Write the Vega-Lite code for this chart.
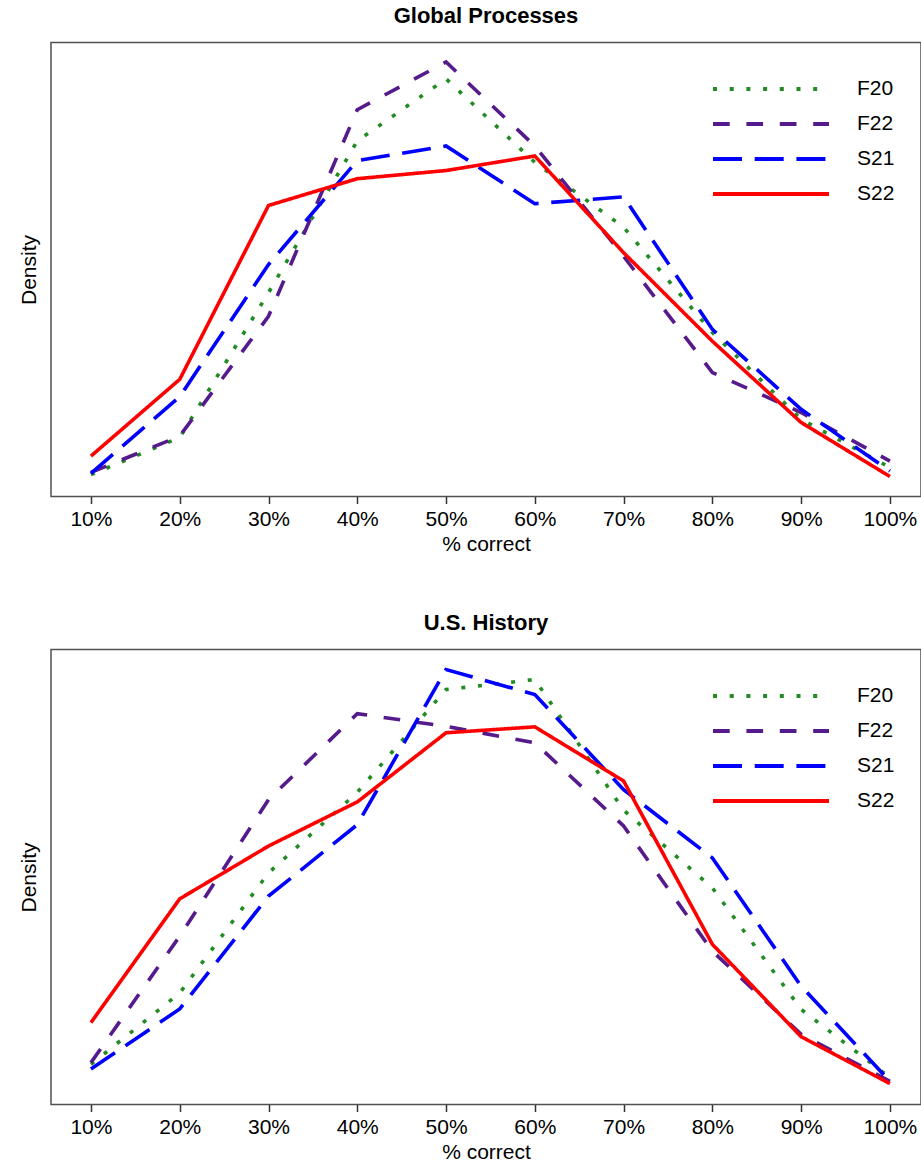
{
  "$schema": "https://vega.github.io/schema/vega-lite/v6.json",
  "padding": {"left": 17, "top": 3.5, "right": 0, "bottom": 0},
  "background": "white",
  "config": {
    "font": "Liberation Sans",
    "view": {"stroke": "#505050", "strokeWidth": 1.5},
    "title": {"fontSize": 22, "fontWeight": "bold", "color": "#000000", "baseline": "alphabetic", "offset": 15, "anchor": "middle"},
    "axis": {"grid": false},
    "legend": {"title": null, "orient": "none", "legendX": 708, "legendY": 34.5, "symbolType": "M-5.8,0H5.8", "symbolSize": 400, "symbolStrokeWidth": 4, "labelFontSize": 21, "labelColor": "#000000", "labelOffset": 74, "rowPadding": 13, "padding": 0}
  },
  "datasets": {
    "d": [
      {"subject": "GP", "term": "F20", "pct": 10, "density": 0.048},
      {"subject": "GP", "term": "F20", "pct": 20, "density": 0.130},
      {"subject": "GP", "term": "F20", "pct": 30, "density": 0.449},
      {"subject": "GP", "term": "F20", "pct": 40, "density": 0.783},
      {"subject": "GP", "term": "F20", "pct": 50, "density": 0.920},
      {"subject": "GP", "term": "F20", "pct": 60, "density": 0.736},
      {"subject": "GP", "term": "F20", "pct": 70, "density": 0.593},
      {"subject": "GP", "term": "F20", "pct": 80, "density": 0.361},
      {"subject": "GP", "term": "F20", "pct": 90, "density": 0.170},
      {"subject": "GP", "term": "F20", "pct": 100, "density": 0.064},
      {"subject": "GP", "term": "F22", "pct": 10, "density": 0.053},
      {"subject": "GP", "term": "F22", "pct": 20, "density": 0.133},
      {"subject": "GP", "term": "F22", "pct": 30, "density": 0.397},
      {"subject": "GP", "term": "F22", "pct": 40, "density": 0.852},
      {"subject": "GP", "term": "F22", "pct": 50, "density": 0.957},
      {"subject": "GP", "term": "F22", "pct": 60, "density": 0.772},
      {"subject": "GP", "term": "F22", "pct": 70, "density": 0.529},
      {"subject": "GP", "term": "F22", "pct": 80, "density": 0.273},
      {"subject": "GP", "term": "F22", "pct": 90, "density": 0.185},
      {"subject": "GP", "term": "F22", "pct": 100, "density": 0.078},
      {"subject": "GP", "term": "S21", "pct": 10, "density": 0.051},
      {"subject": "GP", "term": "S21", "pct": 20, "density": 0.220},
      {"subject": "GP", "term": "S21", "pct": 30, "density": 0.511},
      {"subject": "GP", "term": "S21", "pct": 40, "density": 0.740},
      {"subject": "GP", "term": "S21", "pct": 50, "density": 0.772},
      {"subject": "GP", "term": "S21", "pct": 60, "density": 0.645},
      {"subject": "GP", "term": "S21", "pct": 70, "density": 0.660},
      {"subject": "GP", "term": "S21", "pct": 80, "density": 0.368},
      {"subject": "GP", "term": "S21", "pct": 90, "density": 0.192},
      {"subject": "GP", "term": "S21", "pct": 100, "density": 0.056},
      {"subject": "GP", "term": "S22", "pct": 10, "density": 0.089},
      {"subject": "GP", "term": "S22", "pct": 20, "density": 0.258},
      {"subject": "GP", "term": "S22", "pct": 30, "density": 0.641},
      {"subject": "GP", "term": "S22", "pct": 40, "density": 0.700},
      {"subject": "GP", "term": "S22", "pct": 50, "density": 0.718},
      {"subject": "GP", "term": "S22", "pct": 60, "density": 0.750},
      {"subject": "GP", "term": "S22", "pct": 70, "density": 0.537},
      {"subject": "GP", "term": "S22", "pct": 80, "density": 0.342},
      {"subject": "GP", "term": "S22", "pct": 90, "density": 0.163},
      {"subject": "GP", "term": "S22", "pct": 100, "density": 0.044},
      {"subject": "USH", "term": "F20", "pct": 10, "density": 0.088},
      {"subject": "USH", "term": "F20", "pct": 20, "density": 0.245},
      {"subject": "USH", "term": "F20", "pct": 30, "density": 0.509},
      {"subject": "USH", "term": "F20", "pct": 40, "density": 0.686},
      {"subject": "USH", "term": "F20", "pct": 50, "density": 0.912},
      {"subject": "USH", "term": "F20", "pct": 60, "density": 0.934},
      {"subject": "USH", "term": "F20", "pct": 70, "density": 0.647},
      {"subject": "USH", "term": "F20", "pct": 80, "density": 0.476},
      {"subject": "USH", "term": "F20", "pct": 90, "density": 0.209},
      {"subject": "USH", "term": "F20", "pct": 100, "density": 0.059},
      {"subject": "USH", "term": "F22", "pct": 10, "density": 0.092},
      {"subject": "USH", "term": "F22", "pct": 20, "density": 0.370},
      {"subject": "USH", "term": "F22", "pct": 30, "density": 0.670},
      {"subject": "USH", "term": "F22", "pct": 40, "density": 0.859},
      {"subject": "USH", "term": "F22", "pct": 50, "density": 0.831},
      {"subject": "USH", "term": "F22", "pct": 60, "density": 0.795},
      {"subject": "USH", "term": "F22", "pct": 70, "density": 0.612},
      {"subject": "USH", "term": "F22", "pct": 80, "density": 0.337},
      {"subject": "USH", "term": "F22", "pct": 90, "density": 0.154},
      {"subject": "USH", "term": "F22", "pct": 100, "density": 0.051},
      {"subject": "USH", "term": "S21", "pct": 10, "density": 0.078},
      {"subject": "USH", "term": "S21", "pct": 20, "density": 0.210},
      {"subject": "USH", "term": "S21", "pct": 30, "density": 0.458},
      {"subject": "USH", "term": "S21", "pct": 40, "density": 0.615},
      {"subject": "USH", "term": "S21", "pct": 50, "density": 0.956},
      {"subject": "USH", "term": "S21", "pct": 60, "density": 0.901},
      {"subject": "USH", "term": "S21", "pct": 70, "density": 0.692},
      {"subject": "USH", "term": "S21", "pct": 80, "density": 0.542},
      {"subject": "USH", "term": "S21", "pct": 90, "density": 0.260},
      {"subject": "USH", "term": "S21", "pct": 100, "density": 0.051},
      {"subject": "USH", "term": "S22", "pct": 10, "density": 0.180},
      {"subject": "USH", "term": "S22", "pct": 20, "density": 0.452},
      {"subject": "USH", "term": "S22", "pct": 30, "density": 0.568},
      {"subject": "USH", "term": "S22", "pct": 40, "density": 0.665},
      {"subject": "USH", "term": "S22", "pct": 50, "density": 0.817},
      {"subject": "USH", "term": "S22", "pct": 60, "density": 0.830},
      {"subject": "USH", "term": "S22", "pct": 70, "density": 0.711},
      {"subject": "USH", "term": "S22", "pct": 80, "density": 0.352},
      {"subject": "USH", "term": "S22", "pct": 90, "density": 0.149},
      {"subject": "USH", "term": "S22", "pct": 100, "density": 0.046}
    ]
  },
  "data": {"name": "d"},
  "spacing": 55,
  "resolve": {"legend": {"color": "independent", "strokeDash": "independent"}},
  "vconcat": [
    {
      "title": "Global Processes",
      "width": 870,
      "height": 454,
      "transform": [{"filter": "datum.subject === 'GP'"}],
      "mark": {"type": "line", "strokeWidth": 3.6, "strokeCap": "butt"},
      "encoding": {
        "x": {"field": "pct", "type": "quantitative",
          "scale": {"domain": [5.5, 103.5], "nice": false, "zero": false},
          "axis": {"values": [10, 20, 30, 40, 50, 60, 70, 80, 90, 100], "labelExpr": "datum.value + '%'", "title": "% correct",
            "domain": false, "tickSize": 7, "tickWidth": 1.5, "tickColor": "#333333", "labelFontSize": 21, "labelColor": "#000000", "labelPadding": 5,
            "titleFontSize": 21, "titleFontWeight": "normal", "titleColor": "#000000", "titlePadding": 4}},
        "y": {"field": "density", "type": "quantitative",
          "scale": {"domain": [0, 1], "nice": false, "zero": false},
          "axis": {"labels": false, "ticks": false, "domain": false, "title": "Density", "titleFontSize": 21, "titleFontWeight": "normal", "titleColor": "#000000", "titlePadding": 12}},
        "color": {"field": "term", "type": "nominal",
          "scale": {"domain": ["F20", "F22", "S21", "S22"], "range": ["#228B22", "#551A8B", "#0000FF", "#FF0000"]}},
        "strokeDash": {"field": "term", "type": "nominal",
          "scale": {"domain": ["F20", "F22", "S21", "S22"], "range": [[4, 12.7], [16.7, 16.7], [29, 12.7], [1, 0]]}}
      }
    },
    {
      "title": "U.S. History",
      "width": 870,
      "height": 455,
      "transform": [{"filter": "datum.subject === 'USH'"}],
      "mark": {"type": "line", "strokeWidth": 3.6, "strokeCap": "butt"},
      "encoding": {
        "x": {"field": "pct", "type": "quantitative",
          "scale": {"domain": [5.5, 103.5], "nice": false, "zero": false},
          "axis": {"values": [10, 20, 30, 40, 50, 60, 70, 80, 90, 100], "labelExpr": "datum.value + '%'", "title": "% correct",
            "domain": false, "tickSize": 7, "tickWidth": 1.5, "tickColor": "#333333", "labelFontSize": 21, "labelColor": "#000000", "labelPadding": 5,
            "titleFontSize": 21, "titleFontWeight": "normal", "titleColor": "#000000", "titlePadding": 4}},
        "y": {"field": "density", "type": "quantitative",
          "scale": {"domain": [0, 1], "nice": false, "zero": false},
          "axis": {"labels": false, "ticks": false, "domain": false, "title": "Density", "titleFontSize": 21, "titleFontWeight": "normal", "titleColor": "#000000", "titlePadding": 12}},
        "color": {"field": "term", "type": "nominal",
          "scale": {"domain": ["F20", "F22", "S21", "S22"], "range": ["#228B22", "#551A8B", "#0000FF", "#FF0000"]}},
        "strokeDash": {"field": "term", "type": "nominal",
          "scale": {"domain": ["F20", "F22", "S21", "S22"], "range": [[4, 12.7], [16.7, 16.7], [29, 12.7], [1, 0]]}}
      }
    }
  ]
}
